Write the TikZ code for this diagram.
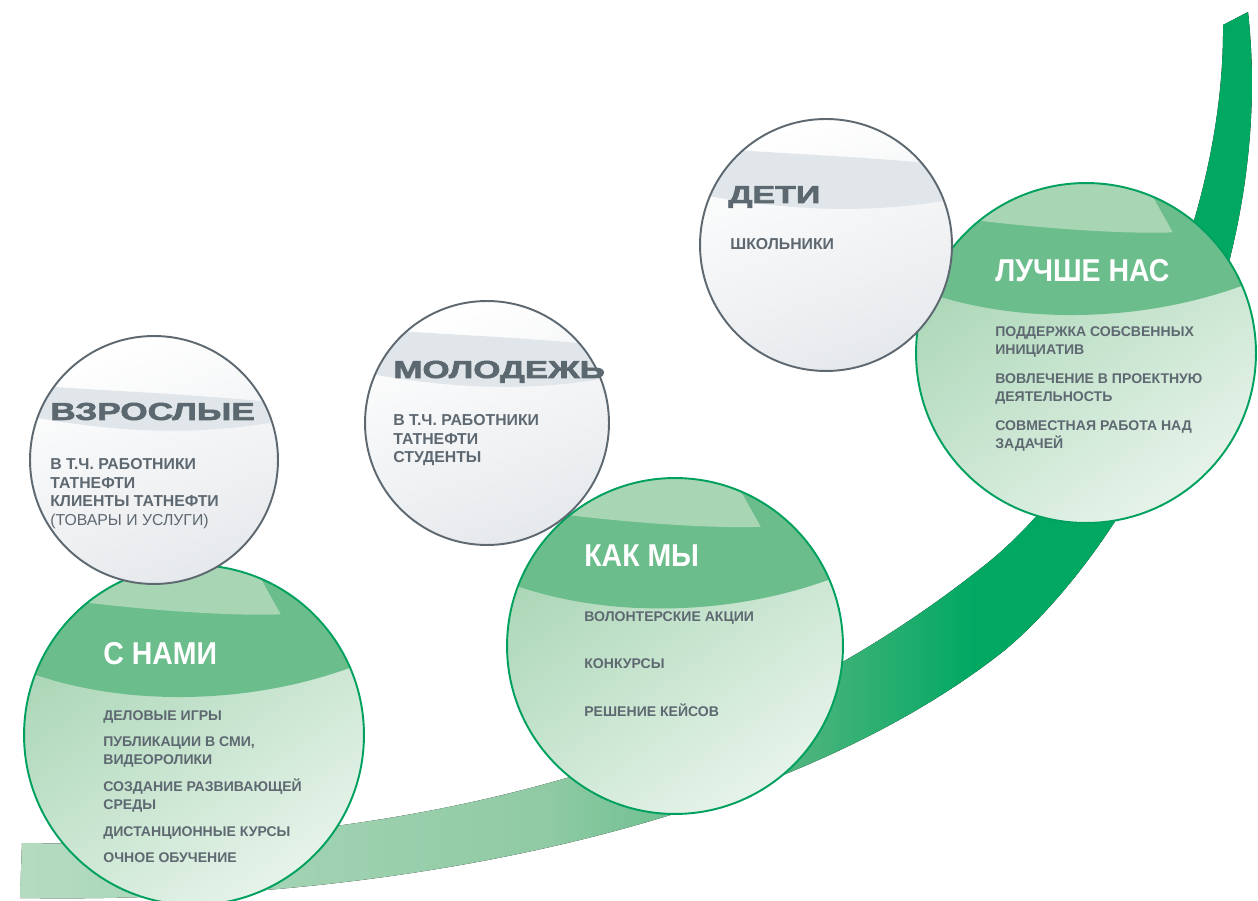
\documentclass[tikz,border=0pt]{standalone}
\usepackage{fontspec}
\setmainfont{Liberation Sans}
\newfontfamily\heavyfont[FakeBold=2.2]{Liberation Sans Bold}
\usepackage{graphicx}
\usetikzlibrary{positioning}

\definecolor{ribA}{HTML}{B4DBC0}
\definecolor{ribB}{HTML}{8FCAA4}
\definecolor{ribC}{HTML}{4DB47D}
\definecolor{ribD}{HTML}{00A862}
\definecolor{ballEdge}{HTML}{00A15E}
\definecolor{ballBand}{HTML}{6CBD8C}
\definecolor{ballHigh}{HTML}{A8D5B4}
\definecolor{ballTop}{HTML}{A6D4B2}
\definecolor{ballBot}{HTML}{E6F3EA}
\definecolor{greyEdge}{HTML}{5D6870}
\definecolor{greyBand}{HTML}{E1E6EA}
\definecolor{greyBot}{HTML}{E6E9EC}
\definecolor{titleGrey}{HTML}{5B686F}
\definecolor{textGrey}{HTML}{5E6871}

\pgfdeclarehorizontalshading{ribbonshade}{100bp}{color(0bp)=(ribA); color(25bp)=(ribA); color(46bp)=(ribB); color(56bp)=(ribC); color(63bp)=(ribD); color(100bp)=(ribD)}

\tikzset{
  greenball/.style={circle, inner sep=0pt, minimum size=2*#1, draw=ballEdge, line width=1.1pt,
    path picture={
      \begin{scope}[shift={(path picture bounding box.center)}, x=#1, y=#1]
        \shade[top color=ballTop, bottom color=ballBot, shading angle=35] (-1,-1) rectangle (1,1);
        \fill[ballBand] (-1.1,0.42) .. controls (-0.5,0.15) and (0.4,0.15) .. (1.1,0.47) -- (1.1,1.1) -- (-1.1,1.1) -- cycle;
        \fill[ballHigh] (-0.8,0.8) .. controls (-0.2,0.72) and (0.3,0.7) .. (0.51,0.71) .. controls (0.45,0.82) and (0.4,0.9) .. (0.3,1.1) -- (-0.8,1.1) -- cycle;
      \end{scope}}},
  whiteball/.style n args={3}{circle, inner sep=0pt, minimum size=2*#1, draw=greyEdge, line width=1.1pt,
    path picture={
      \begin{scope}[shift={(path picture bounding box.center)}, x=#1, y=#1]
        \shade[top color=white, bottom color=greyBot, shading angle=20] (-1,-1) rectangle (1,1);
        \fill[greyBand] (-1.1,#2+0.06) .. controls (-0.3,#2) and (0.4,#2-0.02) .. (1.1,#2-0.1)
          -- (1.1,#3+0.06) .. controls (0.4,#3-0.08) and (-0.3,#3-0.06) .. (-1.1,#3+0.1) -- cycle;
      \end{scope}}},
  bigtitle/.style={text=white, font=\bfseries\fontsize{18}{20}\selectfont, inner sep=0pt, anchor=base west},
  widetitle/.style={text=titleGrey, font=\heavyfont\fontsize{14}{16}\selectfont, inner sep=0pt, anchor=base west},
  itemtext/.style={text=textGrey, font=\bfseries\fontsize{8}{10.2}\selectfont, align=left, inner sep=0pt, anchor=north west},
  whotext/.style={text=textGrey, font=\bfseries\fontsize{9}{10.6}\selectfont, align=left, inner sep=0pt, anchor=north west}
}

\begin{document}
\begin{tikzpicture}[x=0.02cm, y=-0.02cm]
    \useasboundingbox (0,0) rectangle (1258,901);

    % Ribbon
    \fill[shading=ribbonshade] (22,843) .. controls (450,850) and (760,745) .. (985,565)
        .. controls (1110,466) and (1225,230) .. (1223,25) -- (1248,12)
        .. controls (1278,280) and (1130,545) .. (1005,650)
        .. controls (810,805) and (450,905) .. (20,898) -- cycle;

    % Green balls
    \node[greenball=3.4cm] (WithUs) at (194,735) {};
    \node[greenball=3.36cm] (LikeUs) at (675,646) {};
    \node[greenball=3.4cm] (Better) at (1086,353) {};

    % White balls
    \node[whiteball={2.48cm}{0.55}{0.27}] (Adults) at (154,460) {};
    \node[whiteball={2.44cm}{0.72}{0.33}] (Youth) at (487,423) {};
    \node[whiteball={2.52cm}{0.72}{0.32}] (Kids) at (826,245) {};

    % Titles
    \node[bigtitle] (WithUsT) at (103,665) {\scalebox{0.9}[1]{С НАМИ}};
    \node[bigtitle] (LikeUsT) at (584,567) {\scalebox{0.9}[1]{КАК МЫ}};
    \node[bigtitle] (BetterT) at (995,282) {\scalebox{0.9}[1]{ЛУЧШЕ НАС}};
    \node[widetitle] (AdultsT) at (50,420) {\scalebox{1.43}[1]{ВЗРОСЛЫЕ}};
    \node[widetitle] (YouthT) at (393,378) {\scalebox{1.42}[1]{МОЛОДЕЖЬ}};
    \node[widetitle] (KidsT) at (728,203) {\scalebox{1.38}[1]{ДЕТИ}};

    % Lists
    \node[itemtext] (WithUsL) at (103,710) {ДЕЛОВЫЕ ИГРЫ\\[5pt] ПУБЛИКАЦИИ В СМИ,\\ ВИДЕОРОЛИКИ\\[5pt] СОЗДАНИЕ РАЗВИВАЮЩЕЙ\\ СРЕДЫ\\[5pt] ДИСТАНЦИОННЫЕ КУРСЫ\\[5pt] ОЧНОЕ ОБУЧЕНИЕ};
    \node[itemtext] (LikeUsL) at (584,611) {ВОЛОНТЕРСКИЕ АКЦИИ\\[17pt] КОНКУРСЫ\\[17pt] РЕШЕНИЕ КЕЙСОВ};
    \node[itemtext] (BetterL) at (995,326) {ПОДДЕРЖКА СОБСВЕННЫХ\\ ИНИЦИАТИВ\\[6.5pt] ВОВЛЕЧЕНИЕ В ПРОЕКТНУЮ\\ ДЕЯТЕЛЬНОСТЬ\\[6.5pt] СОВМЕСТНАЯ РАБОТА НАД\\ ЗАДАЧЕЙ};
    \node[whotext] (AdultsL) at (50,458) {В Т.Ч. РАБОТНИКИ\\ ТАТНЕФТИ\\ КЛИЕНТЫ ТАТНЕФТИ\\ {\mdseries (ТОВАРЫ И УСЛУГИ)}};
    \node[whotext] (YouthL) at (393,414) {В Т.Ч. РАБОТНИКИ\\ ТАТНЕФТИ\\ СТУДЕНТЫ};
    \node[whotext] (KidsL) at (730,238) {ШКОЛЬНИКИ};
\end{tikzpicture}
\end{document}
